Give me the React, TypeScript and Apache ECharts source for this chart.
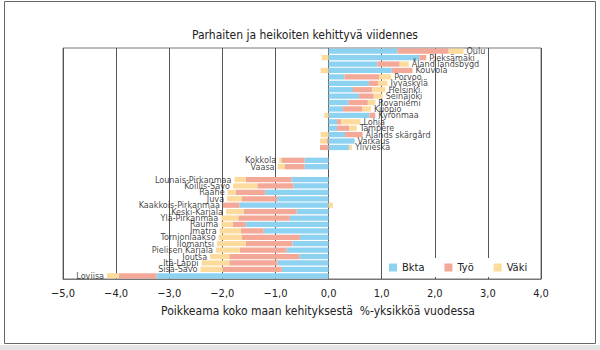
import React, { useEffect, useRef } from "react";
import * as echarts from "echarts";

const categories = ["Oulu","Pieksämäki","Åland landsbygd","Kouvola","Porvoo","Jyväskylä","Helsinki","Seinäjoki","Rovaniemi","Kuopio","Kyrönmaa","Lohja","Tampere","Ålands skärgård","Varkaus","Ylivieska"," ","Kokkola","Vaasa","  ","Lounais-Pirkanmaa","Koillis-Savo","Raahe","Juva","Kaakkois-Pirkanmaa","Keski-Karjala","Ylä-Pirkanmaa","Rauma","Imatra","Tornionlaakso","Ilomantsi","Pielisen Karjala","Joutsa","Itä-Lappi","Sisä-Savo","Loviisa"];

const bkta = [1.30,1.71,0.92,1.19,0.30,0.76,0.46,0.57,0.38,0.27,0.77,0.16,0.16,0.31,0.49,0.39,null,-0.45,-0.45,null,-0.70,-0.66,-1.19,-0.97,-1.68,-0.60,-0.73,-1.56,-1.22,-0.54,-0.68,-0.79,-0.55,-0.96,-0.88,-3.24];
const tyo = [0.96,0.13,0.42,0.39,0.66,0.17,0.36,0.28,0.36,0.36,0.11,0.08,0.23,0.33,-0.04,-0.16,null,-0.44,-0.37,null,-0.86,-0.68,-0.56,-0.66,-0.31,-1.00,-0.97,-0.24,-0.43,-1.09,-0.88,-0.88,-1.32,-0.91,-1.11,-0.71];
const vaki = [0.28,-0.13,0.17,-0.15,0.22,0.18,0.25,0.17,0.14,0.17,-0.08,0.36,0.14,-0.15,-0.12,0.05,null,-0.04,-0.14,null,-0.21,-0.46,-0.15,-0.28,0.08,-0.33,-0.32,-0.22,-0.40,-0.44,-0.54,-0.45,-0.36,-0.52,-0.42,-0.22];

const seriesNames = ["Bkta", "Työ", "Väki"];
const colors = ["#8ed2f2", "#f4a897", "#fddb9c"];

const FONT = "'Liberation Sans Narrow', 'DejaVu Sans Condensed', 'Noto Sans', sans-serif";

export default function App() {
  const ref = useRef<HTMLDivElement>(null);
  useEffect(() => {
    if (!ref.current) return;
    const chart = echarts.init(ref.current, null, { renderer: "svg" });
    const all = [bkta, tyo, vaki];
    const labelData: any[] = [];
    categories.forEach((name, i) => {
      if (bkta[i] === null) return;
      let pos = 0, neg = 0;
      all.forEach((arr) => {
        const v = arr[i] as number;
        if (v > 0) pos += v; else neg += v;
      });
      const right = pos + neg > 0;
      labelData.push({
        value: [right ? pos : neg, i],
        label: { position: right ? "right" : "left" },
      });
    });
    const fmt = (v: number) => (v < 0 ? "\u2212" : "") + Math.abs(v).toFixed(1).replace(".", ",");
    chart.setOption({
      animation: false,
      textStyle: { fontFamily: FONT },
      title: {
        text: "Parhaiten ja heikoiten kehittyvä viidennes",
        left: 300,
        textAlign: "center",
        top: 24,
        textStyle: { fontFamily: FONT, fontSize: 12, fontWeight: "normal", color: "#222" },
      },
      legend: {
        data: seriesNames,
        left: 383,
        top: 258,
        backgroundColor: "#ffffff",
        padding: [4, 6],
        itemWidth: 8,
        itemHeight: 8,
        itemGap: 20,
        icon: "rect",
        textStyle: { fontFamily: FONT, fontSize: 11, color: "#222", width: 24 },
      },
      grid: { left: 63, right: 59, top: 48, bottom: 71, show: true, borderColor: "#777", borderWidth: 1 },
      xAxis: {
        type: "value",
        min: -5,
        max: 4,
        interval: 1,
        axisLine: { show: true, lineStyle: { color: "#777" } },
        axisTick: { show: false },
        splitLine: { show: true, lineStyle: { color: "#555", width: 1 } },
        axisLabel: { formatter: fmt, fontFamily: FONT, fontSize: 11, color: "#222", margin: 9 },
      },
      yAxis: {
        type: "category",
        data: categories,
        inverse: true,
        axisLine: { show: false },
        axisTick: { show: false },
        axisLabel: { show: false },
        splitLine: { show: false },
      },
      series: [
        ...seriesNames.map((n, k) => ({
          name: n,
          type: "bar",
          stack: "total",
          data: all[k],
          barCategoryGap: "18%",
          itemStyle: { color: colors[k] },
        })),
        {
          type: "scatter",
          symbolSize: 0,
          silent: true,
          data: labelData,
          label: {
            show: true,
            distance: 3,
            formatter: (p: any) => categories[p.value[1]],
            fontFamily: FONT,
            fontSize: 9,
            lineHeight: 9,
            color: "#111",
          },
        },
      ],
      graphic: [
        {
          type: "rect",
          shape: { x: 4.5, y: 1.5, width: 591, height: 342 },
          style: { fill: "none", stroke: "#666", lineWidth: 1 },
        },
        {
          type: "rect",
          shape: { x: 0, y: 345, width: 600, height: 5 },
          style: { fill: "#e4e4e4" },
        },
        {
          type: "text",
          x: 318,
          y: 305,
          style: {
            text: "Poikkeama koko maan kehityksestä  %-yksikköä vuodessa",
            textAlign: "center",
            fontFamily: FONT,
            fontSize: 12,
            fill: "#222",
          },
        },
      ],
    });
    return () => chart.dispose();
  }, []);
  return <div ref={ref} style={{ position: "fixed", left: 0, top: 0, width: 600, height: 350, background: "#fff" }} />;
}
